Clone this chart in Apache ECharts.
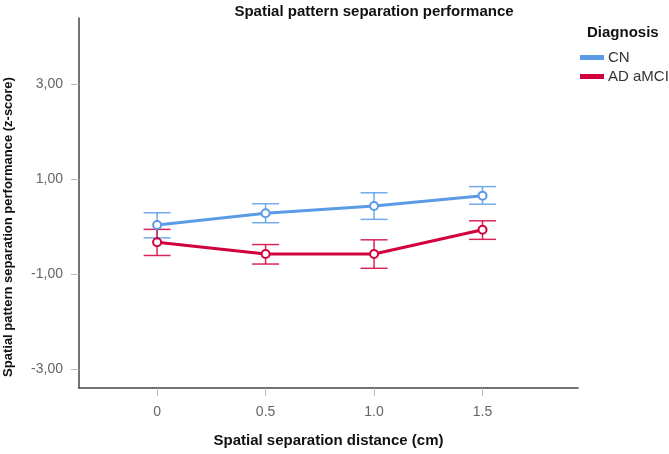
<!DOCTYPE html>
<html>
<head>
<meta charset="utf-8">
<script src="https://cdn.jsdelivr.net/npm/echarts@6/dist/echarts.min.js"></script>
<style>
  html, body { margin: 0; padding: 0; background: #fff; }
  #main { width: 669px; height: 454px; }
</style>
</head>
<body>
<div id="main"></div>
<script>
// x categories (cm) and group means with error bar ends
var distances = [0, 0.5, 1.0, 1.5];
var cnMean = [0.04, 0.29, 0.44, 0.66];
var cnLow = [-0.23, 0.09, 0.16, 0.48];
var cnHigh = [0.30, 0.49, 0.72, 0.85];
var adMean = [-0.32, -0.57, -0.57, -0.06];
var adLow = [-0.60, -0.78, -0.87, -0.26];
var adHigh = [-0.05, -0.37, -0.27, 0.13];
var xTicks = [0, 0.5, 1.0, 1.5];
var yTicks = [-3, -1, 1, 3];

var blue = '#5b9be6';
var red = '#d2003c';

function pairs(ys) {
  return distances.map(function (x, i) { return [x, ys[i]]; });
}
function bars(lo, hi) {
  return distances.map(function (x, i) { return [x, lo[i], hi[i]]; });
}

function errorBar(color) {
  return function (params, api) {
    var top = api.coord([api.value(0), api.value(2)]);
    var bot = api.coord([api.value(0), api.value(1)]);
    var half = 13.5;
    var style = { stroke: color, lineWidth: 1.5, opacity: 0.85 };
    return {
      type: 'group',
      children: [
        { type: 'line', shape: { x1: top[0], y1: top[1], x2: bot[0], y2: bot[1] }, style: style },
        { type: 'line', shape: { x1: top[0] - half, y1: top[1], x2: top[0] + half, y2: top[1] }, style: style },
        { type: 'line', shape: { x1: bot[0] - half, y1: bot[1], x2: bot[0] + half, y2: bot[1] }, style: style }
      ]
    };
  };
}

var chart = echarts.init(document.getElementById('main'));
var font = 'Liberation Sans, Arial, sans-serif';

chart.setOption({
  animation: false,
  textStyle: { fontFamily: font },
  title: {
    text: 'Spatial pattern separation performance',
    left: 374, textAlign: 'center', top: 4, padding: 0,
    textStyle: { fontSize: 15, fontWeight: 'bold', color: '#111', fontFamily: font }
  },
  graphic: [{
    type: 'text', left: 587, top: 25,
    style: { text: 'Diagnosis', fontSize: 15, fontWeight: 'bold', fill: '#111', fontFamily: font }
  }],
  legend: {
    orient: 'vertical', left: 580, top: 50, itemGap: 4, padding: 0,
    itemWidth: 22, itemHeight: 3,
    textStyle: { fontSize: 15, color: '#333' },
    data: [
      { name: 'CN', icon: 'rect', itemStyle: { color: blue } },
      { name: 'AD aMCI', icon: 'rect', itemStyle: { color: red } }
    ]
  },
  grid: { left: 79, right: 91, top: 18, bottom: 66, outerBoundsMode: 'none' },
  xAxis: {
    type: 'value', min: -0.36, max: 1.94,
    name: 'Spatial separation distance (cm)', nameLocation: 'middle', nameGap: 45,
    nameTextStyle: { fontSize: 15, fontWeight: 'bold', color: '#111' },
    axisLine: { show: true, onZero: false, lineStyle: { color: '#444', width: 1.5 } },
    axisTick: { show: true, length: 8, customValues: xTicks, lineStyle: { color: '#bbb' } },
    axisLabel: {
      customValues: xTicks, margin: 17, fontSize: 14, color: '#666',
      formatter: function (v) { return v === 0 ? '0' : v.toFixed(1); }
    },
    splitLine: { show: false }
  },
  yAxis: {
    type: 'value', min: -3.39, max: 4.4,
    name: 'Spatial pattern separation performance (z-score)', nameLocation: 'middle', nameGap: 64,
    nameTextStyle: { fontSize: 13, fontWeight: 'bold', color: '#111', padding: [0, 48, 0, 0] },
    axisLine: { show: true, onZero: false, lineStyle: { color: '#444', width: 1.5 } },
    axisTick: { show: true, length: 8, customValues: yTicks, lineStyle: { color: '#bbb' } },
    axisLabel: {
      customValues: yTicks, margin: 16, fontSize: 14, color: '#666',
      formatter: function (v) { return v.toFixed(2).replace('.', ','); }
    },
    splitLine: { show: false }
  },
  series: [
    {
      name: 'CN', type: 'line', data: pairs(cnMean), z: 3,
      lineStyle: { color: blue, width: 3 }, itemStyle: { color: blue, borderColor: blue, borderWidth: 1.5 },
      symbol: 'emptyCircle', symbolSize: 8
    },
    {
      name: 'AD aMCI', type: 'line', data: pairs(adMean), z: 3,
      lineStyle: { color: red, width: 3 }, itemStyle: { color: red, borderColor: red, borderWidth: 1.5 },
      symbol: 'emptyCircle', symbolSize: 8
    },
    { type: 'custom', renderItem: errorBar(blue), data: bars(cnLow, cnHigh), z: 2 },
    { type: 'custom', renderItem: errorBar(red), data: bars(adLow, adHigh), z: 2 }
  ]
});
</script>
</body>
</html>
